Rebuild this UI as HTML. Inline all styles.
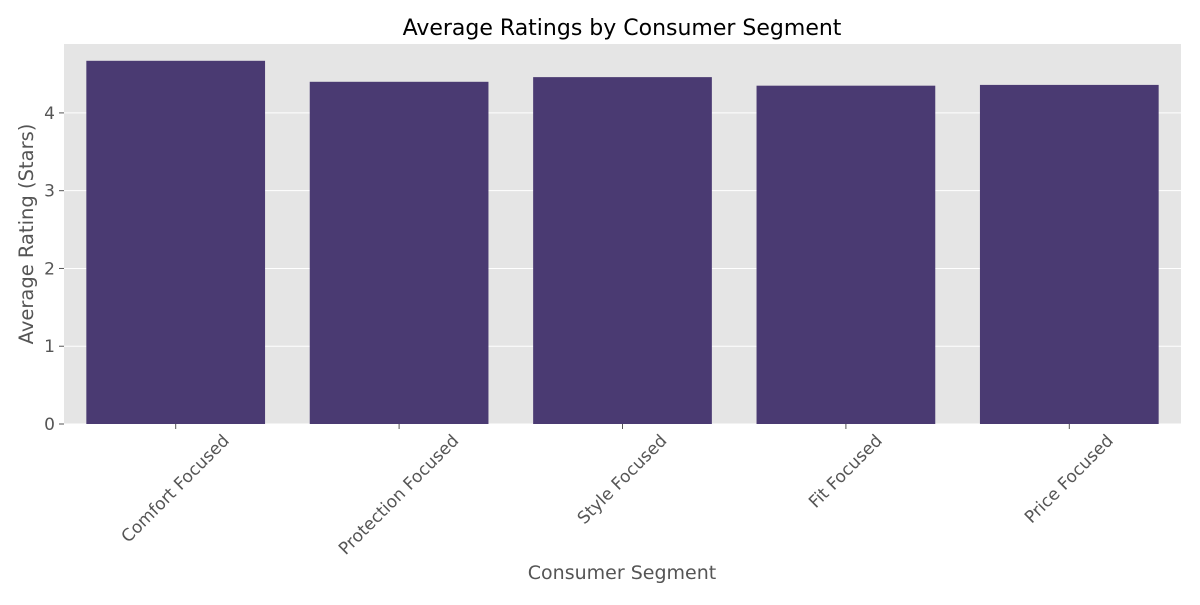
<!DOCTYPE html>
<html><head><meta charset="utf-8"><style>
body{margin:0;background:#fff;font-family:"Liberation Sans","DejaVu Sans",sans-serif}
</style></head><body>
<svg id="chart" width="1200" height="600" xmlns="http://www.w3.org/2000/svg" style="font-family:'DejaVu Sans','Liberation Sans',sans-serif">
<rect x="64" y="44" width="1117" height="380" fill="#e5e5e5"/>
<g id="grid"></g><g id="bars"></g><g id="axes"></g>
<text x="622" y="35" text-anchor="middle" font-size="22" fill="#000">Average Ratings by Consumer Segment</text>
<text x="622" y="579" text-anchor="middle" font-size="19" fill="#555">Consumer Segment</text>
<text transform="translate(33,234) rotate(-90)" text-anchor="middle" font-size="19.5" fill="#555">Average Rating (Stars)</text>
</svg>
<script>
const categories=["Comfort Focused","Protection Focused","Style Focused","Fit Focused","Price Focused"];
const ratings=[4.67,4.40,4.46,4.35,4.36];
const yTicks=[0,1,2,3,4];
const NS="http://www.w3.org/2000/svg";
const L=64,R=1181,T=44,B=424,yMax=4.886;
const y=v=>B-(v/yMax)*(B-T);
const step=(R-L)/categories.length;
const x=i=>L+step*(i+0.5);
function mk(t,a,p){const e=document.createElementNS(NS,t);for(const k in a)e.setAttribute(k,a[k]);p.appendChild(e);return e;}
const grid=document.getElementById('grid'),bars=document.getElementById('bars'),axes=document.getElementById('axes');
yTicks.forEach(v=>{
 const g=mk('line',{x1:L,x2:R,y1:y(v),y2:y(v),stroke:'#fff','stroke-width':1},grid);
 
 
 const tk=mk('line',{x1:L-5,x2:L,y1:y(v),y2:y(v),stroke:'#555'},axes);
 
 
 const t=mk('text',{x:L-9,y:y(v)+6,'text-anchor':'end','font-size':17,fill:'#555'},axes);
 t.textContent=v;
 
 
});
categories.forEach((c,i)=>{
 const w=step*0.8;
 const b=mk('rect',{x:x(i)-w/2,y:y(ratings[i]),width:w,height:B-y(ratings[i]),fill:'#4a3a72'},bars);
 
 
 const tk=mk('line',{x1:x(i),x2:x(i),y1:B,y2:B+5,stroke:'#555'},axes);
 
 
 const t=mk('text',{'text-anchor':'middle','dominant-baseline':'central','font-size':17,fill:'#555'},axes);
 t.textContent=c;
 
 
 const len=t.getComputedTextLength();
 const half=(len+20)*0.7071/2;
 t.setAttribute('transform',`translate(${x(i)},${B+7+half}) rotate(-45)`);
});
</script>
</body></html>
